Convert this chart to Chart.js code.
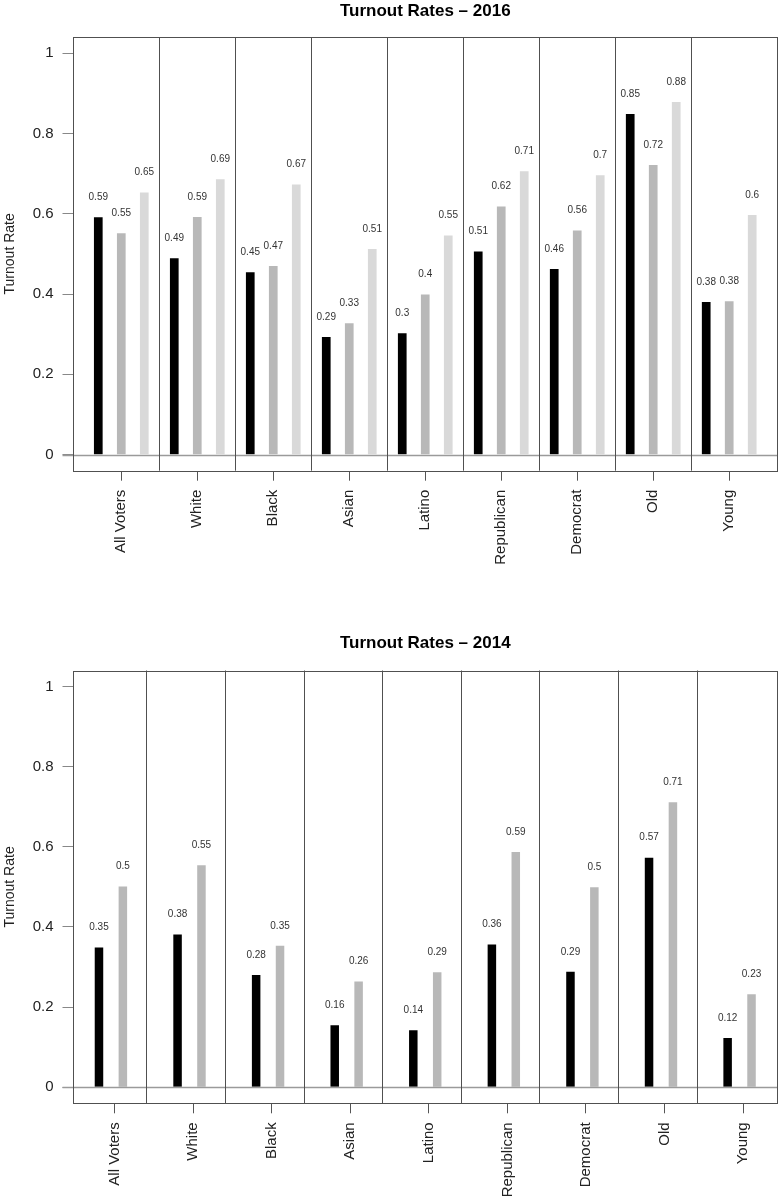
<!DOCTYPE html>
<html><head><meta charset="utf-8">
<script src="https://cdn.jsdelivr.net/npm/chart.js@4/dist/chart.umd.min.js"></script>
<style>
html,body{margin:0;padding:0;background:#fff;}
#wrap{position:relative;width:782px;height:1199px;}
canvas{position:absolute;left:0;}
</style></head><body>
<div id="wrap">
<canvas id="c1" width="782" height="600" style="top:0px"></canvas>
<canvas id="c2" width="782" height="599" style="top:600px"></canvas>
</div>
<script>
const categories = ["All Voters","White","Black","Asian","Latino","Republican","Democrat","Old","Young"];

const black2016 = [0.591, 0.489, 0.454, 0.293, 0.302, 0.506, 0.462, 0.848, 0.380];
const gray2016  = [0.551, 0.592, 0.470, 0.327, 0.399, 0.618, 0.558, 0.721, 0.382];
const light2016 = [0.653, 0.686, 0.673, 0.512, 0.546, 0.706, 0.696, 0.878, 0.597];

const black2014 = [0.349, 0.381, 0.280, 0.155, 0.142, 0.356, 0.288, 0.573, 0.123];
const gray2014  = [0.501, 0.554, 0.353, 0.264, 0.287, 0.587, 0.499, 0.711, 0.232];

const yTicks = [0, 0.2, 0.4, 0.6, 0.8, 1];
const yTickLabels = ["0", "0.2", "0.4", "0.6", "0.8", "1"];
const titles = ["Turnout Rates \u2013 2016", "Turnout Rates \u2013 2014"];
const yTitle = "Turnout Rate";

const FONT = "'Liberation Sans', Arial, Helvetica, sans-serif";
const fmt = v => String(Math.round(v * 100) / 100);

const decorPlugin = {
  id: 'decor',
  afterDatasetsDraw(chart, args, o) {
    const {ctx, chartArea: a, scales: {x, y}} = chart;
    ctx.save();
    const y0 = Math.round(y.getPixelForValue(0)) + 0.5;
    ctx.strokeStyle = '#9a9a9a'; ctx.lineWidth = 1.5;
    ctx.beginPath(); ctx.moveTo(a.left - 10, y0); ctx.lineTo(a.right, y0); ctx.stroke();
    ctx.strokeStyle = '#505050'; ctx.lineWidth = 1;
    for (let i = 0; i < categories.length - 1; i++) {
      const px = Math.round(x.getPixelForValue(i + o.dividerAt)) + 0.5;
      ctx.beginPath(); ctx.moveTo(px, a.top); ctx.lineTo(px, a.bottom); ctx.stroke();
    }
    const t = Math.round(a.top) + 0.5, b = Math.round(a.bottom) + 0.5;
    const l = Math.round(a.left) + 0.5, r = Math.round(a.right) - 0.5;
    ctx.strokeRect(l, t, r - l, b - t);
    ctx.fillStyle = '#333'; ctx.font = "10px " + FONT;
    ctx.textAlign = 'center'; ctx.textBaseline = 'middle';
    chart.data.datasets.forEach((ds, di) => {
      const meta = chart.getDatasetMeta(di);
      meta.data.forEach((el, j) => {
        const v = ds.data[j].y;
        ctx.fillText(fmt(v), el.x, y.getPixelForValue(v + o.lift));
      });
    });
    ctx.restore();
  }
};

function makeChart(id, title, series, colors, cfg) {
  return new Chart(document.getElementById(id), {
    type: 'bar',
    data: {
      datasets: series.map((vals, k) => ({
        data: vals.map((v, i) => ({x: i, y: v})),
        backgroundColor: colors[k], borderWidth: 0,
        categoryPercentage: cfg.catPct, barPercentage: cfg.barPct
      }))
    },
    options: {
      responsive: false, animation: false,
      layout: {padding: {left: 0, right: 4, top: 0, bottom: 0}},
      plugins: {
        legend: {display: false}, tooltip: {enabled: false},
        title: {display: true, fullSize: false, text: title, color: '#000',
          font: {family: FONT, size: 17, weight: 'bold'},
          padding: {top: cfg.titleTop, bottom: cfg.titleBottom}},
        decor: {dividerAt: cfg.dividerAt, lift: 0.05}
      },
      scales: {
        x: {
          type: 'linear', min: cfg.xMin, max: cfg.xMax, offset: false,
          afterBuildTicks(s) { s.ticks = categories.map((c, i) => ({value: i + cfg.tickShift})); },
          afterFit(s) { s.height = cfg.xAxisHeight; },
          ticks: {autoSkip: false, minRotation: 90, maxRotation: 90, padding: 9, color: '#222',
            font: {family: FONT, size: 15}, callback: (v, i) => categories[i]},
          grid: {offset: false, drawOnChartArea: false, drawTicks: true, tickLength: 10, tickColor: '#555', lineWidth: 1},
          border: {display: false}
        },
        y: {
          type: 'linear', min: -0.04, max: 1.04,
          afterBuildTicks(s) { s.ticks = yTicks.map(v => ({value: v})); },
          afterFit(s) { s.width = 72.5; },
          ticks: {padding: 9, color: '#222', font: {family: FONT, size: 15},
            callback: (v, i) => yTickLabels[i]},
          grid: {drawOnChartArea: false, drawTicks: true, tickLength: 10, tickColor: '#888'},
          border: {display: false},
          title: {display: true, text: yTitle, color: '#222', font: {family: FONT, size: 14},
            padding: {top: 2, bottom: 0}}
        }
      }
    },
    plugins: [decorPlugin]
  });
}

makeChart('c1', titles[0], [black2016, gray2016, light2016], ['#000000', '#b8b8b8', '#d9d9d9'], {
  catPct: 0.908, barPct: 0.378, xMin: -0.642, xMax: 8.642, tickShift: 0, dividerAt: 0.5,
  titleTop: 1, titleBottom: 15.6, xAxisHeight: 129.3
});
makeChart('c2', titles[1], [black2014, gray2014], ['#000000', '#b8b8b8'], {
  catPct: 0.608, barPct: 0.356, xMin: -0.489, xMax: 8.489, tickShift: 0.045, dividerAt: 0.452,
  titleTop: 32.8, titleBottom: 17.3, xAxisHeight: 95.7
});
</script>
</body></html>
